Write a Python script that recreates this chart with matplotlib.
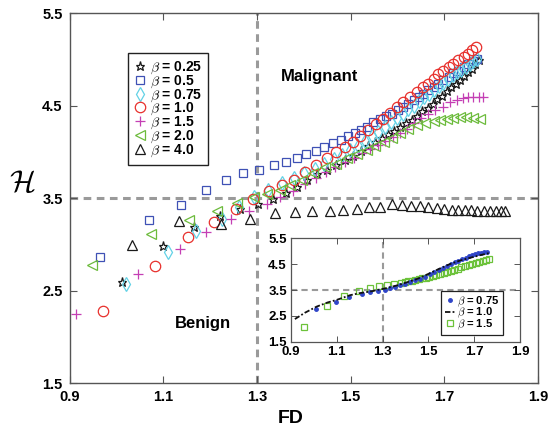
import numpy as np
import matplotlib
matplotlib.use("Agg")
import matplotlib.pyplot as plt

plt.rcParams['font.family'] = ['Liberation Sans', 'DejaVu Sans']
plt.rcParams['font.weight'] = 'bold'
plt.rcParams['mathtext.fontset'] = 'cm'

# ---- main panel data: H vs FD for each beta ----
fd_025 = [1.011, 1.099, 1.165, 1.221, 1.264, 1.303, 1.334, 1.362, 1.385, 1.406, 1.428, 1.449, 1.468,
          1.487, 1.505, 1.521, 1.537, 1.552, 1.566, 1.580, 1.593, 1.606, 1.618, 1.630, 1.642, 1.653,
          1.664, 1.675, 1.685, 1.695, 1.705, 1.715, 1.724, 1.733, 1.742, 1.750, 1.758, 1.766, 1.774]
h_025 = [2.59, 2.985, 3.19, 3.31, 3.38, 3.44, 3.49, 3.56, 3.62, 3.695, 3.76, 3.81, 3.86,
         3.91, 3.96, 4.01, 4.06, 4.11, 4.15, 4.19, 4.23, 4.27, 4.31, 4.35, 4.39, 4.44,
         4.48, 4.52, 4.57, 4.61, 4.66, 4.70, 4.74, 4.78, 4.82, 4.86, 4.90, 4.95, 4.99]

fd_05 = [0.964, 1.069, 1.138, 1.191, 1.233, 1.270, 1.305, 1.337, 1.362, 1.385, 1.405, 1.425, 1.443,
         1.462, 1.479, 1.495, 1.509, 1.522, 1.534, 1.548, 1.562, 1.575, 1.588, 1.600, 1.612, 1.623,
         1.634, 1.645, 1.655, 1.666, 1.677, 1.687, 1.698, 1.709, 1.719, 1.730, 1.741, 1.751, 1.762, 1.770]
h_05 = [2.86, 3.26, 3.43, 3.59, 3.70, 3.77, 3.81, 3.86, 3.89, 3.93, 3.976, 4.01, 4.055,
        4.10, 4.13, 4.17, 4.20, 4.235, 4.27, 4.32, 4.355, 4.39, 4.415, 4.45, 4.49, 4.52,
        4.56, 4.595, 4.63, 4.67, 4.70, 4.74, 4.776, 4.81, 4.85, 4.88, 4.92, 4.955, 4.985, 5.01]

fd_075 = [1.02, 1.11, 1.169, 1.225, 1.262, 1.294, 1.324, 1.353, 1.378, 1.401, 1.423, 1.444, 1.464,
          1.482, 1.499, 1.515, 1.530, 1.545, 1.559, 1.573, 1.586, 1.599, 1.611, 1.623, 1.635, 1.646,
          1.657, 1.668, 1.678, 1.688, 1.698, 1.708, 1.718, 1.727, 1.736, 1.745, 1.754, 1.762, 1.770]
h_075 = [2.57, 2.916, 3.15, 3.27, 3.40, 3.51, 3.586, 3.66, 3.72, 3.77, 3.82, 3.87, 3.92,
         3.97, 4.02, 4.07, 4.12, 4.17, 4.22, 4.27, 4.32, 4.37, 4.41, 4.46, 4.50, 4.55,
         4.59, 4.63, 4.67, 4.71, 4.75, 4.79, 4.83, 4.86, 4.89, 4.92, 4.95, 4.98, 5.01]

fd_10 = [0.972, 1.082, 1.152, 1.208, 1.255, 1.292, 1.326, 1.353, 1.380, 1.403, 1.425, 1.449, 1.469,
         1.487, 1.504, 1.520, 1.537, 1.553, 1.569, 1.584, 1.598, 1.612, 1.627, 1.641, 1.655, 1.666,
         1.677, 1.687, 1.698, 1.709, 1.719, 1.730, 1.741, 1.751, 1.759, 1.767]
h_10 = [2.28, 2.765, 3.08, 3.244, 3.38, 3.49, 3.576, 3.64, 3.70, 3.78, 3.86, 3.93, 4.00,
        4.055, 4.11, 4.17, 4.24, 4.30, 4.36, 4.42, 4.487, 4.54, 4.595, 4.65, 4.70, 4.74,
        4.79, 4.84, 4.88, 4.92, 4.955, 4.99, 5.03, 5.06, 5.10, 5.135]

fd_15 = [0.914, 1.047, 1.136, 1.191, 1.244, 1.283, 1.321, 1.350, 1.377, 1.402, 1.425, 1.447, 1.467,
         1.487, 1.506, 1.524, 1.541, 1.558, 1.574, 1.590, 1.605, 1.620, 1.634, 1.650, 1.666, 1.680,
         1.696, 1.711, 1.726, 1.740, 1.751, 1.762, 1.773, 1.782]
h_15 = [2.25, 2.675, 2.95, 3.13, 3.27, 3.36, 3.44, 3.51, 3.58, 3.65, 3.72, 3.78, 3.84,
        3.89, 3.94, 3.99, 4.03, 4.08, 4.12, 4.16, 4.20, 4.25, 4.31, 4.37, 4.415, 4.45,
        4.49, 4.54, 4.566, 4.585, 4.595, 4.60, 4.60, 4.60]

fd_20 = [0.947, 1.074, 1.154, 1.214, 1.257, 1.294, 1.322, 1.348, 1.371, 1.396, 1.420, 1.445, 1.469,
         1.492, 1.513, 1.534, 1.552, 1.570, 1.588, 1.605, 1.623, 1.641, 1.659, 1.677, 1.690, 1.705,
         1.719, 1.733, 1.747, 1.761, 1.776]
h_20 = [2.776, 3.11, 3.265, 3.36, 3.45, 3.51, 3.55, 3.59, 3.64, 3.695, 3.77, 3.84, 3.875,
        3.935, 3.98, 4.02, 4.07, 4.11, 4.15, 4.20, 4.25, 4.29, 4.31, 4.33, 4.35, 4.36,
        4.37, 4.375, 4.375, 4.37, 4.36]

fd_40 = [1.034, 1.134, 1.223, 1.286, 1.339, 1.381, 1.418, 1.455, 1.484, 1.513, 1.540, 1.563, 1.588,
         1.609, 1.629, 1.648, 1.666, 1.684, 1.700, 1.716, 1.730, 1.744, 1.757, 1.770, 1.784, 1.798,
         1.810, 1.821, 1.830]
h_40 = [2.99, 3.25, 3.22, 3.28, 3.335, 3.35, 3.36, 3.36, 3.37, 3.38, 3.40, 3.41, 3.44,
        3.43, 3.42, 3.42, 3.41, 3.39, 3.38, 3.37, 3.37, 3.37, 3.37, 3.36, 3.36, 3.36,
        3.36, 3.36, 3.36]

# ---- inset data ----
in_fd_075 = [1.009, 1.095, 1.155, 1.209, 1.245, 1.281, 1.31, 1.332, 1.354, 1.376, 1.398, 1.42, 1.441,
             1.463, 1.485, 1.505, 1.525, 1.545, 1.563, 1.581, 1.598, 1.615, 1.631, 1.647, 1.662, 1.677,
             1.691, 1.705, 1.718, 1.731, 1.743, 1.755]
in_h_075 = [2.76, 3.04, 3.23, 3.33, 3.41, 3.47, 3.50, 3.56, 3.62, 3.68, 3.74, 3.80, 3.87,
            3.94, 4.02, 4.10, 4.18, 4.26, 4.34, 4.42, 4.50, 4.57, 4.63, 4.69, 4.75, 4.80,
            4.84, 4.88, 4.91, 4.94, 4.96, 4.98]
in_fd_10 = [0.917, 0.96, 1.012, 1.06, 1.10, 1.158, 1.2, 1.245, 1.31, 1.36, 1.40, 1.449, 1.50,
            1.55, 1.594, 1.64, 1.69, 1.73, 1.769]
in_h_10 = [2.38, 2.62, 2.86, 3.02, 3.12, 3.30, 3.38, 3.44, 3.56, 3.67, 3.78, 3.92, 4.12,
           4.33, 4.50, 4.64, 4.76, 4.85, 4.93]
in_fd_15 = [0.955, 1.056, 1.132, 1.196, 1.243, 1.283, 1.318, 1.350, 1.380, 1.396, 1.411, 1.427, 1.442,
            1.458, 1.473, 1.489, 1.504, 1.520, 1.535, 1.551, 1.566, 1.582, 1.597, 1.613, 1.628, 1.644,
            1.659, 1.675, 1.690, 1.706, 1.721, 1.737, 1.752, 1.766]
in_h_15 = [2.09, 2.89, 3.27, 3.48, 3.57, 3.64, 3.69, 3.73, 3.77, 3.80, 3.83, 3.86, 3.89,
           3.92, 3.95, 3.98, 4.01, 4.04, 4.08, 4.12, 4.16, 4.20, 4.24, 4.28, 4.32, 4.37,
           4.41, 4.45, 4.49, 4.53, 4.57, 4.61, 4.65, 4.68]

xticks = [0.9, 1.1, 1.3, 1.5, 1.7, 1.9]
yticks = [1.5, 2.5, 3.5, 4.5, 5.5]

series = [
    (fd_025, h_025, '*', '#1a1a1a', 6.5, '0.25'),
    (fd_05, h_05, 's', '#3f51b5', 5.5, '0.5'),
    (fd_075, h_075, 'd', '#62d2e6', 7.0, '0.75'),
    (fd_10, h_10, 'o', '#e8302c', 7.5, '1.0'),
    (fd_15, h_15, '+', '#c43fb4', 7.5, '1.5'),
    (fd_20, h_20, '<', '#6cbb3c', 7.0, '2.0'),
    (fd_40, h_40, '^', '#1a1a1a', 6.5, '4.0'),
]

fig = plt.figure(figsize=(5.48, 4.29), dpi=100)
ax = fig.add_axes([0.127, 0.107, 0.855, 0.862])

ax.axvline(1.3, color='#9a9a9a', lw=2.2, ls=(0, (2.5, 1.8)), zorder=1)
ax.axhline(3.5, color='#9a9a9a', lw=2.2, ls=(0, (2.5, 1.8)), zorder=1)

for fd, h, mk, col, ms, lab in series:
    ax.plot(fd, h, ls='none', marker=mk, ms=ms, mfc='none', mec=col, mew=0.9,
            label=r'$\beta$ = ' + lab, zorder=3)

ax.set_xlim(0.9, 1.9)
ax.set_ylim(1.5, 5.5)
ax.set_xticks(xticks)
ax.set_yticks(yticks)
ax.set_xticklabels([f'{v:.1f}' for v in xticks])
ax.set_yticklabels([f'{v:.1f}' for v in yticks])
ax.tick_params(direction='in', length=5, width=0.8, top=True, right=True,
               labelsize=10.5, pad=5, color='#555555')
for s in ax.spines.values():
    s.set_color('#555555')
    s.set_linewidth(1.0)

ax.set_xlabel('FD', fontsize=14, fontweight='bold')
ax.xaxis.set_label_coords(0.472, -0.072)
ax.set_ylabel(r'$\mathcal{H}$', fontsize=22, rotation=0)
ax.yaxis.set_label_coords(-0.102, 0.5)

ax.text(1.4325, 4.82, 'Malignant', fontsize=12, fontweight='bold', ha='center', va='center')
ax.text(1.185, 2.14, 'Benign', fontsize=12, fontweight='bold', ha='center', va='center')

leg = ax.legend(loc='upper left', bbox_to_anchor=(0.125, 0.892), borderaxespad=0,
                fancybox=False, edgecolor='#222222', framealpha=1,
                prop={'weight': 'bold', 'size': 10}, handlelength=0.75,
                handletextpad=0.35, labelspacing=-0.18, borderpad=0.45)
leg.get_frame().set_linewidth(1.0)

# ---- inset ----
ins = fig.add_axes([0.531, 0.203, 0.418, 0.242])
ins.set_facecolor('white')
ins.axvline(1.3, color='#9a9a9a', lw=1.5, ls=(0, (3, 2)), zorder=1)
ins.axhline(3.5, color='#9a9a9a', lw=1.5, ls=(0, (3, 2)), zorder=1)
ins.plot(in_fd_075, in_h_075, ls='none', marker='.', ms=5, color='#2f45c8',
         label=r'$\beta$ = 0.75', zorder=3)
ins.plot(in_fd_10, in_h_10, ls=(0, (3, 1.2, 1, 1.2)), lw=1.3, color='#111111',
         label=r'$\beta$ = 1.0', zorder=4)
ins.plot(in_fd_15, in_h_15, ls='none', marker='s', ms=5, mfc='none', mec='#6cc23a',
         mew=0.9, label=r'$\beta$ = 1.5', zorder=2)
ins.set_xlim(0.9, 1.9)
ins.set_ylim(1.5, 5.5)
ins.set_xticks(xticks)
ins.set_yticks(yticks)
ins.set_xticklabels([f'{v:.1f}' for v in xticks])
ins.set_yticklabels([f'{v:.1f}' for v in yticks])
ins.tick_params(direction='in', length=4, width=0.7, top=True, right=True,
                labelsize=9.5, pad=3, color='#555555')
for s in ins.spines.values():
    s.set_color('#555555')
    s.set_linewidth(0.9)
ileg = ins.legend(loc='lower right', bbox_to_anchor=(0.924, 0.067), borderaxespad=0,
                  fancybox=False, edgecolor='#222222', framealpha=1,
                  prop={'weight': 'bold', 'size': 8}, handlelength=0.9,
                  handletextpad=0.2, labelspacing=-0.25, borderpad=0.3)
ileg.get_frame().set_linewidth(0.9)

fig.savefig('out.png', dpi=100)
